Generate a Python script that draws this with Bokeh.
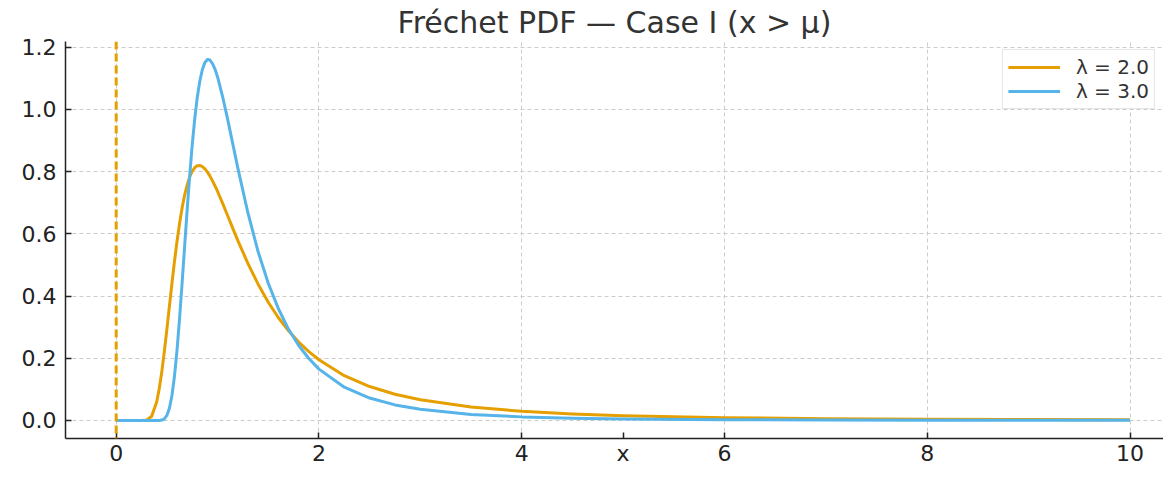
from bokeh.plotting import figure
from bokeh.models import Span, Legend, LegendItem, FixedTicker, PrintfTickFormatter, Range1d
from bokeh.embed import file_html
from bokeh.resources import INLINE

# values
x_vals = [0.0, 0.1, 0.2, 0.25, 0.3, 0.35, 0.4,
          0.425, 0.45, 0.475, 0.5, 0.525, 0.55, 0.575, 0.6, 0.625, 0.65, 0.675, 0.7,
          0.725, 0.75, 0.775, 0.8, 0.825, 0.85, 0.875, 0.9, 0.925, 0.95, 0.975, 1.0,
          1.05, 1.1, 1.15, 1.2,
          1.3, 1.4, 1.5, 1.6, 1.7, 1.8, 1.9, 2.0,
          2.25, 2.5, 2.75, 3.0,
          3.5, 4.0, 4.5, 5.0,
          6.0, 7.0, 8.0, 9.0, 10.0]
pdf_lambda2 = [0.0, 0.0, 0.0, 0.0, 0.0011, 0.0133, 0.0603,
               0.1027, 0.157, 0.2219, 0.293, 0.3672, 0.441, 0.5111, 0.576, 0.6332, 0.683,
               0.7244, 0.757, 0.7829, 0.801, 0.8129, 0.819, 0.8196, 0.816, 0.8087, 0.798,
               0.7853, 0.770, 0.7536, 0.736,
               0.6975, 0.658, 0.6174, 0.578,
               0.504, 0.438, 0.380, 0.330, 0.2880, 0.252, 0.2210, 0.195,
               0.144, 0.109, 0.0842, 0.0663,
               0.0430, 0.0294, 0.0209, 0.0154,
               0.0090, 0.0057, 0.0038, 0.0027, 0.0020]
pdf_lambda3 = [0.0, 0.0, 0.0, 0.0, 0.0, 0.0, 0.0,
               0.0, 0.00125, 0.0052, 0.0161, 0.0394, 0.0804, 0.1426, 0.226, 0.3271, 0.441,
               0.5594, 0.677, 0.7871, 0.886, 0.9705, 1.039, 1.0911, 1.128, 1.1503, 1.160,
               1.1583, 1.147, 1.1286, 1.104,
               1.0404, 0.967, 0.8888, 0.811,
               0.666, 0.542, 0.441, 0.359, 0.2930, 0.241, 0.1990, 0.165,
               0.107, 0.0720, 0.0500, 0.0357,
               0.0195, 0.0115, 0.0072, 0.0048,
               0.0023, 0.0012, 0.0007, 0.0005, 0.0003]
series_labels = ["λ = 2.0", "λ = 3.0"]
mu = 0.0
x_ticks = [0, 2, 4, 6, 8, 10]
y_ticks = [0.0, 0.2, 0.4, 0.6, 0.8, 1.0, 1.2]
x_axis_label = "x"
x_axis_label_pos = 5

ORANGE = "#E69F00"
BLUE = "#56B4E9"
FONT = "DejaVu Sans"

p = figure(width=1163, height=468, output_backend="svg", toolbar_location=None,
           x_range=Range1d(-0.5, 10.33), y_range=Range1d(-0.058, 1.218),
           title="Fréchet PDF — Case I (x > μ)",
           min_border_left=65, min_border_right=0, min_border_top=41, min_border_bottom=29)
p.outline_line_color = None
p.background_fill_color = "white"
p.border_fill_color = "white"

p.title.align = "center"
p.title.text_font = FONT
p.title.text_font_size = "30px"
p.title.text_font_style = "normal"
p.title.text_color = "#333333"
p.title.standoff = 4

for ax in (p.xaxis[0], p.yaxis[0]):
    ax.axis_line_color = "#222222"
    ax.axis_line_width = 1.5
    ax.major_tick_line_color = "#222222"
    ax.major_tick_line_width = 1.5
    ax.major_tick_in = 6
    ax.major_tick_out = 0
    ax.minor_tick_line_color = None
    ax.major_label_text_font = FONT
    ax.major_label_text_font_size = "22px"
    ax.major_label_text_color = "#222222"
p.xaxis.major_label_standoff = 2
p.yaxis.major_label_standoff = 9

# the axis title "x" is shown in the tick-label row, between the 4 and 6 ticks
p.xaxis.ticker = FixedTicker(ticks=sorted(x_ticks + [x_axis_label_pos]))
p.xaxis.major_label_overrides = {x_axis_label_pos: x_axis_label}
p.yaxis.ticker = FixedTicker(ticks=y_ticks)
p.yaxis.formatter = PrintfTickFormatter(format="%.1f")

for g in (p.xgrid[0], p.ygrid[0]):
    g.grid_line_color = "#cccccc"
    g.grid_line_dash = "4 3"
    g.grid_line_width = 1
p.xgrid.ticker = FixedTicker(ticks=x_ticks)
p.ygrid.ticker = FixedTicker(ticks=y_ticks)

r2 = p.line(x_vals, pdf_lambda2, line_color=ORANGE, line_width=3, line_join="round")
r3 = p.line(x_vals, pdf_lambda3, line_color=BLUE, line_width=3, line_join="round")

p.add_layout(Span(location=mu, dimension="height", line_color=ORANGE,
                  line_dash="8 4", line_width=3))

legend = Legend(items=[LegendItem(label=series_labels[0], renderers=[r2]),
                       LegendItem(label=series_labels[1], renderers=[r3])],
                location="top_right")
legend.label_text_font = FONT
legend.label_text_font_size = "20px"
legend.label_text_color = "#333333"
legend.glyph_width = 52
legend.label_standoff = 16
legend.spacing = 0
legend.padding = 5
legend.margin = 8
legend.border_line_color = "#cccccc"
legend.border_line_width = 1.5
legend.background_fill_alpha = 0.9
p.add_layout(legend)

open("out.html", "w").write(file_html(p, INLINE))
